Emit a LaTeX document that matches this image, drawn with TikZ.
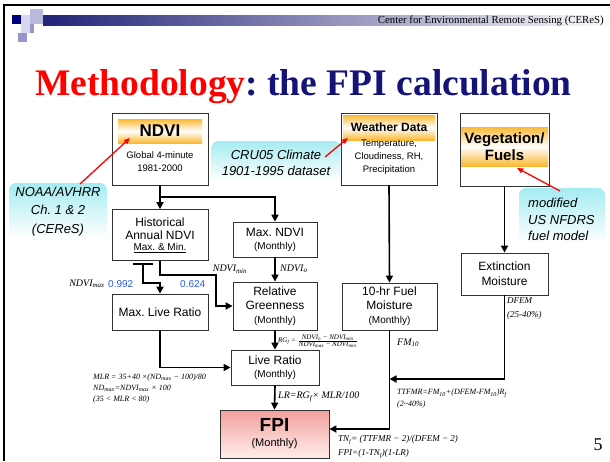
\documentclass[tikz,border=0pt]{standalone}
\usepackage{fontspec}
\setmainfont{Liberation Serif}
\newfontfamily\arial{Liberation Sans}
\usetikzlibrary{arrows.meta,calc}
\frenchspacing
\definecolor{navy}{RGB}{0,0,128}
\definecolor{titlered}{RGB}{255,0,0}
\definecolor{titleblue}{RGB}{20,20,120}
\definecolor{boxline}{RGB}{50,50,50}
\definecolor{barorange}{RGB}{250,185,50}
\definecolor{calloutcyan}{RGB}{165,236,242}
\definecolor{numblue}{RGB}{40,90,230}
\definecolor{fpitop}{RGB}{242,160,155}
\definecolor{fpibot}{RGB}{255,238,236}
\definecolor{sqpale}{RGB}{215,215,238}
\definecolor{sqlav}{RGB}{185,185,222}
\definecolor{sqmed}{RGB}{150,150,205}
\definecolor{hdrleft}{RGB}{35,35,120}
\definecolor{hdrmid}{RGB}{155,155,188}
\definecolor{hdrright}{RGB}{252,252,253}
\begin{document}
\begin{tikzpicture}[x=1pt,y=-1pt,
 box/.style={draw=boxline,line width=0.8pt,fill=white,inner sep=0pt,align=center,font=\arial\fontsize{12}{14}\selectfont},
 bar/.style={inner sep=0pt,top color=barorange,bottom color=barorange,middle color=white,align=center,font=\arial\bfseries},
 callout/.style={rounded corners=7pt,top color=calloutcyan,bottom color=white,inner sep=0pt},
 ctext/.style={inner sep=0pt,align=center,font=\arial\itshape\fontsize{13}{16}\selectfont},
 conn/.style={line width=1.6pt,-{Triangle[length=7pt,width=7pt]}},
 plain/.style={line width=1.6pt},
 redarr/.style={red,line width=1.3pt,-{Triangle[length=6pt,width=5pt]}},
 lab/.style={inner sep=0pt,font=\itshape},
 num/.style={inner sep=0pt,text=numblue,font=\arial\fontsize{10}{12}\selectfont},
]
\useasboundingbox (0,0) rectangle (610,461);
\fill[white] (0,0) rectangle (610,461);
% frame
\draw[line width=2pt] (4,461) -- (4,5) -- (610,5);
% header decoration
\fill[left color=hdrleft,middle color=hdrmid,right color=hdrright] (43,15) rectangle (610,25);
\fill[sqlav] (30,9) rectangle (43,15);
\fill[navy] (12,15) rectangle (21,24);
\fill[sqpale] (21,15) rectangle (30,24);
\fill[sqlav] (30,15) rectangle (43,24);
\fill[sqpale] (21,24) rectangle (30,33);
\fill[sqmed] (30,24) rectangle (34,33);
\fill[sqmed] (18,33) rectangle (27,42);
\node[anchor=base east,inner sep=0pt] (hdr) at (604,23) {\fontsize{10.8}{12}\selectfont Center for Environmental Remote Sensing (CEReS)};
% title
\node[anchor=base west,inner sep=0pt] (title) at (35,95) {\fontsize{37.5}{40}\selectfont\bfseries\textcolor{titlered}{Methodology}\textcolor{titleblue}{: the FPI calculation}};

% callouts
\node[callout,minimum width=98,minimum height=55] (noaa) at (58,210.5) {};
\node[ctext,font=\arial\itshape\fontsize{13}{18.5}\selectfont] (noaat) at (58,211.5) {NOAA/AVHRR\\Ch. 1 \& 2\\(CEReS)};
\node[callout,minimum width=129,minimum height=40] (cru) at (276,161) {};
\node[ctext] (crut) at (276,163) {CRU05 Climate\\1901-1995 dataset};
\node[callout,minimum width=86,minimum height=55] (nfdrs) at (562,215.5) {};
\node[ctext,align=left,anchor=west,font=\arial\itshape\fontsize{13}{16.5}\selectfont] (nfdrst) at (528,219.5) {modified\\US NFDRS\\fuel model};

% top boxes
\node[box,minimum width=96,minimum height=72] (ndvi) at (160,149) {};
\node[bar,minimum width=84,minimum height=24,font=\arial\bfseries\fontsize{17}{18}\selectfont] (ndvibar) at (160,131) {NDVI};
\node[inner sep=0pt,align=center,font=\arial\fontsize{9.5}{13}\selectfont] (ndvisub) at (160,162) {Global 4-minute\\1981-2000};

\node[box,minimum width=96,minimum height=72] (weather) at (389,149) {};
\node[bar,minimum width=92,minimum height=25,font=\arial\bfseries\fontsize{12}{13}\selectfont] (wbar) at (389,127.5) {Weather Data};
\node[inner sep=0pt,align=center,font=\arial\fontsize{9.5}{13}\selectfont] (wsub) at (389,157) {Temperature,\\Cloudiness, RH,\\Precipitation};

\node[box,minimum width=89,minimum height=73] (veg) at (504.5,149.5) {};
\node[bar,minimum width=87,minimum height=39,font=\arial\bfseries\fontsize{15}{17}\selectfont] (vbar) at (504.5,146.5) {Vegetation/\\Fuels};

% other boxes
\node[box,minimum width=96,minimum height=51] (hist) at (160,235) {Historical\\[-1pt]Annual NDVI\\[-3pt]{\fontsize{10}{11}\selectfont\underline{Max. \& Min.}}};
\node[box,minimum width=84,minimum height=35] (maxndvi) at (275,239.5) {Max. NDVI\\[-1pt]{\fontsize{10}{11}\selectfont (Monthly)}};
\node[box,minimum width=84,minimum height=48] (rg) at (275,306) {Relative\\Greenness\\{\fontsize{10}{11}\selectfont (Monthly)}};
\node[box,minimum width=96,minimum height=36] (maxlive) at (160,312) {Max. Live Ratio};
\node[box,minimum width=88,minimum height=35] (lr) at (275,367.5) {Live Ratio\\[-1pt]{\fontsize{10}{11}\selectfont (Monthly)}};
\node[box,minimum width=109,minimum height=48,draw=boxline,top color=fpitop,bottom color=fpibot] (fpi) at (274.5,434) {{\bfseries\fontsize{19}{20}\selectfont FPI}\\[1pt]{\fontsize{11}{12}\selectfont (Monthly)}};
\node[box,minimum width=95,minimum height=47] (fuel) at (389.5,306.5) {10-hr Fuel\\Moisture\\{\fontsize{10}{11}\selectfont (Monthly)}};
\node[box,minimum width=87,minimum height=42] (ext) at (504.5,274) {Extinction\\[1pt]Moisture};

% connectors
\coordinate (br1) at (160,197);
\coordinate (hbar) at (143,264);
\coordinate (hl) at (133,264);
\coordinate (hr) at (153,264);
\coordinate (jog) at (216,275);
\coordinate (join) at (389.5,379);
\coordinate (fpiin) at ($(fpi.east)+(0,-5)$);
\draw[conn] (ndvi.south) -- (hist.north);
\draw[conn] (br1) -| (maxndvi.north);
\draw[plain,line width=1.2pt] (hl) -- (hr);
\draw[conn] (hbar) -- ++(0,19) -| (maxlive.north);
\draw[conn] (hist.south) |- (jog) |- (rg.west);
\draw[conn] (maxndvi.south) -- (rg.north);
\draw[conn] (rg.south) -- (lr.north);
\draw[conn] (maxlive.south) |- (lr.west);
\draw[conn] (lr.south) -- (fpi.north);
\draw[conn] (weather.south) -- (fuel.north);
\draw[conn] (veg.south) -- (ext.north);
\draw[conn] (fuel.south) |- (fpiin);
\draw[conn] (ext.south) |- (join);

% red arrows
\coordinate (noaaS) at (80,184);
\coordinate (noaaE) at (130,138);
\coordinate (cruS) at (325,157);
\coordinate (cruE) at (348,138);
\coordinate (nfS) at (560,191);
\coordinate (nfE) at (517,168);
\draw[redarr] (noaaS) -- (noaaE);
\draw[redarr] (cruS) -- (cruE);
\draw[redarr] (nfS) -- (nfE);

% labels
\node[lab,anchor=east,font=\itshape\fontsize{10}{12}\selectfont] (ndvimax) at (105,284) {NDVI\textsubscript{max}};
\node[num,anchor=west] (n992) at (108,284) {0.992};
\node[num,anchor=west] (n624) at (180,284) {0.624};
\node[lab,font=\itshape\fontsize{10}{12}\selectfont] (ndvimin) at (230,269) {NDVI\textsubscript{min}};
\node[lab,anchor=west,font=\itshape\fontsize{10}{12}\selectfont] (ndvio) at (280,269) {NDVI\textsubscript{o}};
\node[lab,anchor=west,font=\itshape\fontsize{7}{8}\selectfont] (rgf) at (278,341) {RG\textsubscript{f} = $\frac{\mbox{\fontsize{7}{8}\selectfont\itshape NDVI\textsubscript{o} − NDVI\textsubscript{min}}}{\mbox{\fontsize{7}{8}\selectfont\itshape NDVI\textsubscript{max} − NDVI\textsubscript{min}}}$};
\node[lab,anchor=west,font=\itshape\fontsize{10}{12}\selectfont] (lrf) at (278,397) {LR=RG\textsubscript{f}× MLR/100};
\node[lab,anchor=west,font=\itshape\fontsize{10}{12}\selectfont] (fm10) at (397,343) {FM\textsubscript{10}};
\node[lab,anchor=west,align=left,font=\itshape\fontsize{9}{14}\selectfont] (dfem) at (507,309) {DFEM\\(25-40\%)};
\node[lab,anchor=west,align=left,font=\itshape\fontsize{8}{12}\selectfont] (ttfmr) at (397,399) {TTFMR=FM\textsubscript{10}+(DFEM-FM\textsubscript{10})R\textsubscript{f}\\(2\textasciitilde40\%)};
\node[lab,anchor=west,align=left,font=\itshape\fontsize{9}{14}\selectfont] (tnf) at (338,447) {TN\textsubscript{f}= (TTFMR − 2)/(DFEM − 2)\\FPI=(1-TN\textsubscript{f})(1-LR)};
\node[lab,anchor=west,align=left,font=\itshape\fontsize{8}{11}\selectfont] (mlr) at (93,389) {MLR = 35+40 ×(ND\textsubscript{max} − 100)/80\\ND\textsubscript{max}=NDVI\textsubscript{max} × 100\\(35 < MLR < 80)};
\node[inner sep=0pt,font=\fontsize{18}{20}\selectfont] (page) at (598,445) {5};
\end{tikzpicture}
\end{document}
